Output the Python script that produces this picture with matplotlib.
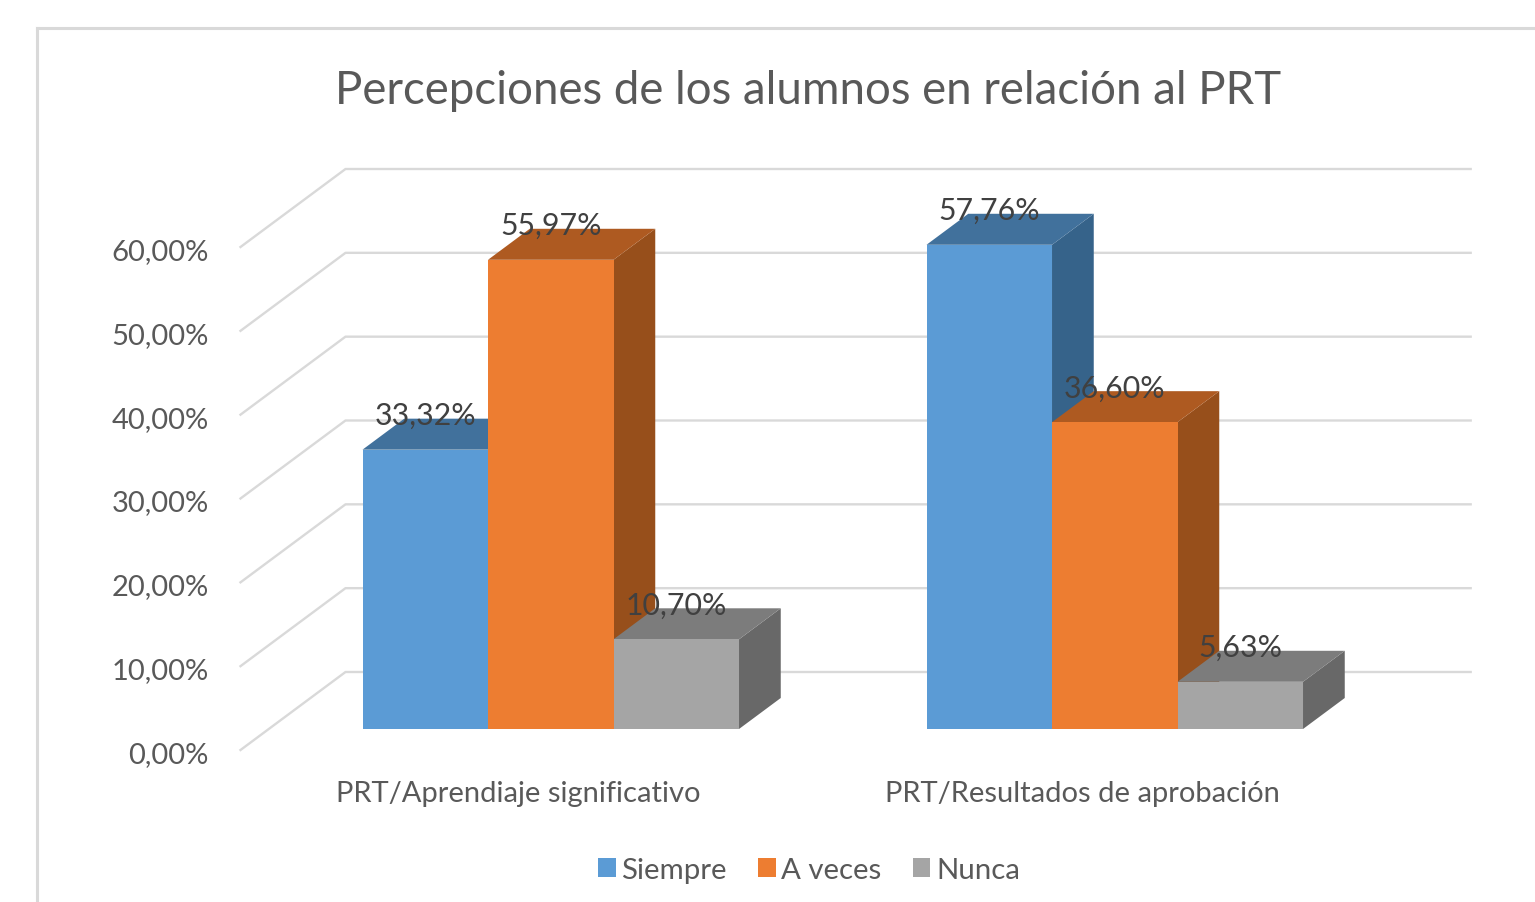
import matplotlib
matplotlib.use('Agg')
import matplotlib.pyplot as plt
from matplotlib.patches import Polygon, Rectangle
from matplotlib.lines import Line2D
from matplotlib.transforms import ScaledTranslation

# data
categories = ['PRT/Aprendiaje significativo', 'PRT/Resultados de aprobación']
series_names = ['Siempre', 'A veces', 'Nunca']
siempre = [33.32, 57.76]
a_veces = [55.97, 36.60]
nunca = [10.70, 5.63]
y_ticks = [0, 10, 20, 30, 40, 50, 60]

# front, top, side colours of each series
colors = [('#5B9BD5', '#41719C', '#36638A'),
          ('#ED7D31', '#AE5A21', '#974F1B'),
          ('#A5A5A5', '#7C7C7C', '#686868')]

W, H = 1535, 903
plt.rcParams['font.family'] = ['Lato', 'DejaVu Sans']

fig = plt.figure(figsize=(W / 100, H / 100), dpi=100)

# axes = front plane of the 3D box, pixels measured on the reference
left, right, top, bottom = 240.5, 1368.5, 248, 751
ax = fig.add_axes([left / W, 1 - bottom / H, (right - left) / W, (bottom - top) / H])
ax.set_xlim(-0.5, 1.5)
ax.set_ylim(0, 60)
ax.patch.set_visible(False)
for s in ax.spines.values():
    s.set_visible(False)

# depth of the box in data units
depth_x = 105 / 564
depth_y = 78 / (503 / 60)
bar_w = 125.5 / 564
bar_d0 = 21 / 78   # where the bars start inside the depth
bar_d1 = 52 / 78   # where they end

# chart frame
fig.add_artist(Line2D([37 / W, 37 / W], [0, 1 - 28.5 / H], color='#D9D9D9', lw=2.2))
fig.add_artist(Line2D([37 / W, 1], [1 - 28.5 / H, 1 - 28.5 / H], color='#D9D9D9', lw=2.2))

# gridlines: floor/side wall part and back wall part
for v in y_ticks:
    ax.plot([-0.5, -0.5 + depth_x, 1.495 + depth_x], [v, v + depth_y, v + depth_y],
            color='#D9D9D9', lw=1.7, clip_on=False, zorder=1)

all_series = [siempre, a_veces, nunca]
for cat in range(len(categories)):
    for i, vals in enumerate(all_series):
        v = vals[cat]
        # bars are centred on the category, pushed back by their depth position
        x0 = cat - 1.5 * bar_w + i * bar_w + bar_d0 * depth_x
        x1 = x0 + bar_w
        y0 = bar_d0 * depth_y
        y1 = y0 + v
        dx = (bar_d1 - bar_d0) * depth_x
        dy = (bar_d1 - bar_d0) * depth_y
        z = 3 + i
        front, top_c, side = colors[i]
        ax.bar(x0, v, width=bar_w, bottom=y0, align='edge', color=front, zorder=z + 0.2, clip_on=False)
        ax.add_patch(Polygon([(x0, y1), (x1, y1), (x1 + dx, y1 + dy), (x0 + dx, y1 + dy)],
                             closed=True, fc=top_c, ec='none', zorder=z + 0.1, clip_on=False))
        ax.add_patch(Polygon([(x1, y0), (x1 + dx, y0 + dy), (x1 + dx, y1 + dy), (x1, y1)],
                             closed=True, fc=side, ec='none', zorder=z, clip_on=False))
        ax.annotate(f'{v:.2f}%'.replace('.', ','), (x0 + bar_w / 2, y1), xytext=(0, 25),
                    textcoords='offset points', ha='center', va='center',
                    fontsize=21.8, color='#404040', zorder=10, annotation_clip=False)

ax.set_xticks(range(len(categories)))
ax.set_xticklabels(categories)
ax.set_yticks(y_ticks)
ax.set_yticklabels([f'{v:.2f}%'.replace('.', ',') for v in y_ticks])
ax.tick_params(axis='x', length=0, pad=21.5, labelsize=21, labelcolor='#595959')
ax.tick_params(axis='y', length=0, pad=23, labelsize=21, labelcolor='#595959')

# category labels sit a little left of the tick position, value labels a little lower
shift = ScaledTranslation(-4.5 / 100, 0, fig.dpi_scale_trans)
for lab in ax.get_xticklabels():
    lab.set_transform(lab.get_transform() + shift)
shift_y = ScaledTranslation(0, -1.5 / 100, fig.dpi_scale_trans)
for lab in ax.get_yticklabels():
    lab.set_transform(lab.get_transform() + shift_y)

fig.text(808 / W, 1 - 91 / H, 'Percepciones de los alumnos en relación al PRT',
         ha='center', va='center', fontsize=32.9, color='#595959')

handles = [Rectangle((0, 0), 1, 1, fc=c[0]) for c in colors]
fig.legend(handles, series_names, loc='center', bbox_to_anchor=(809 / W, 1 - 871 / H),
           ncol=3, frameon=False, fontsize=21.2, labelcolor='#595959',
           handlelength=0.6, handleheight=0.6, handletextpad=0.2, columnspacing=1.05)

plt.savefig('out.png', dpi=100)
